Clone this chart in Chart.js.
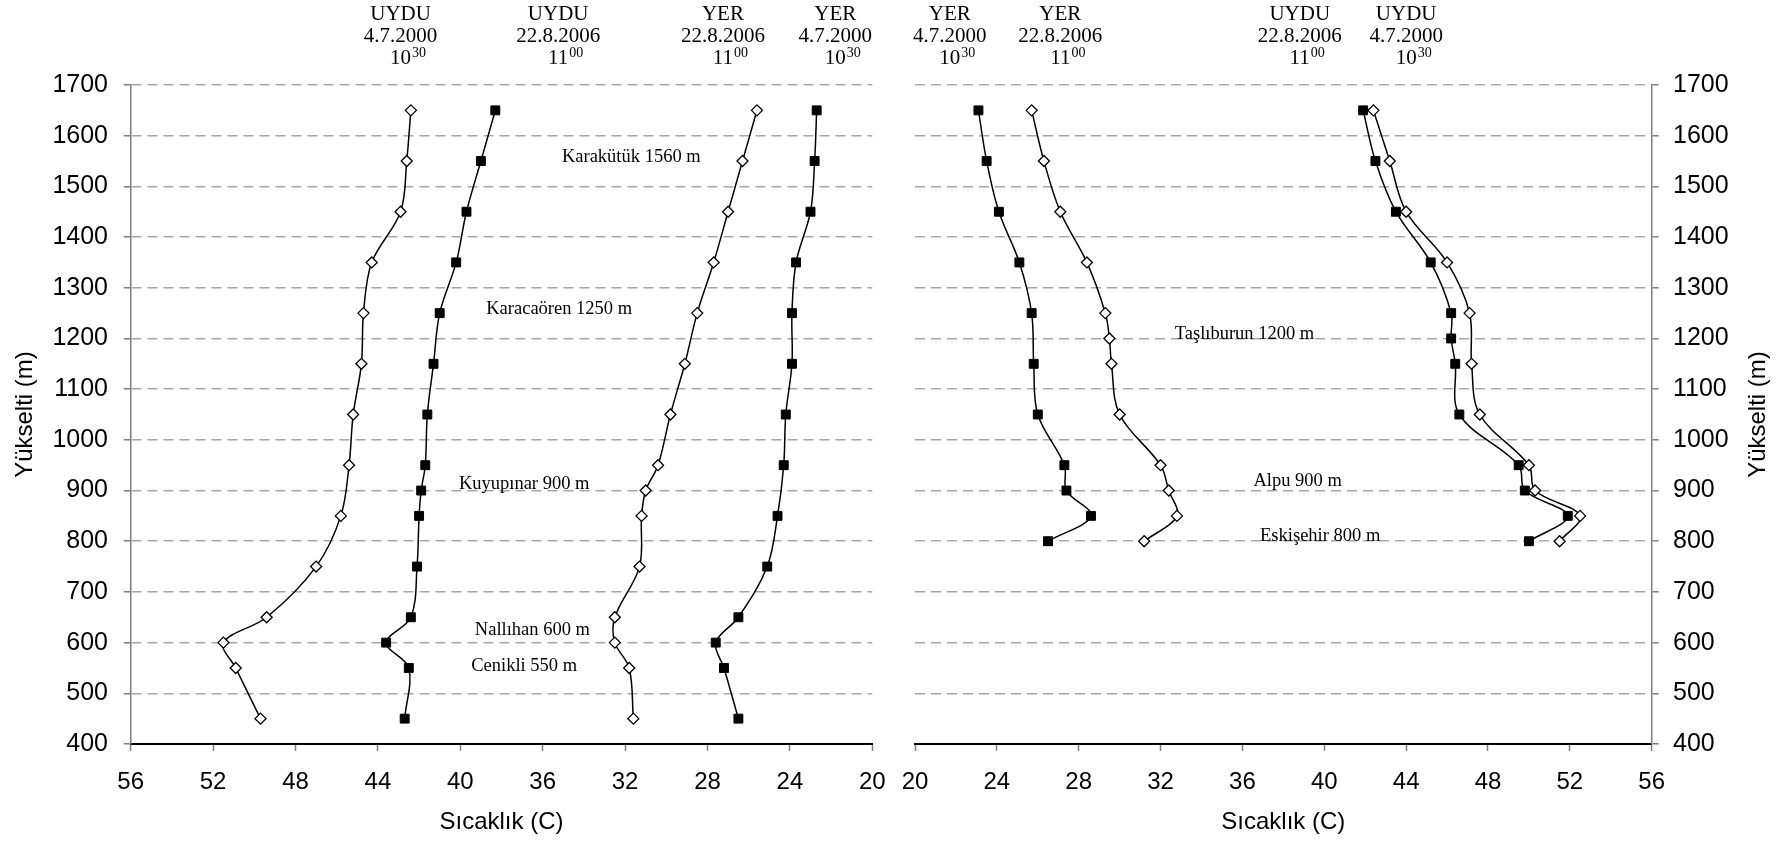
<!DOCTYPE html>
<html><head><meta charset="utf-8">
<script src="https://cdn.jsdelivr.net/npm/chart.js@4/dist/chart.umd.min.js"></script>
<style>
html,body{margin:0;padding:0;background:#fff;width:1782px;height:844px;overflow:hidden}
canvas{position:absolute;top:0}
#cL{left:0}
#cR{left:895px}
</style></head><body>
<canvas id="cL" width="895" height="844"></canvas>
<canvas id="cR" width="887" height="844"></canvas>
<script>
// ---------- DATA ----------
// altitudes (m)
const altLeftA  = [1650,1550,1450,1350,1250,1150,1050,950,850,750,650,600,550,450];
const altLeftB  = [1650,1550,1450,1350,1250,1150,1050,950,900,850,750,650,600,550,450];
const altRightA = [1650,1550,1450,1350,1250,1150,1050,950,900,850,800];
const altRightB = [1650,1550,1450,1350,1250,1200,1150,1050,950,900,850,800];

// temperatures (C) - left panel
const uyduLeft2000 = [42.4,42.6,42.9,44.3,44.7,44.8,45.2,45.4,45.8,47.0,49.4,51.5,50.9,49.7];
const uyduLeft2006 = [38.3,39.0,39.7,40.2,41.0,41.3,41.6,41.7,41.9,42.0,42.1,42.4,43.6,42.5,42.7];
const yerLeft2006  = [25.6,26.3,27.0,27.7,28.5,29.1,29.8,30.4,31.0,31.2,31.3,32.5,32.5,31.8,31.6];
const yerLeft2000  = [22.7,22.8,23.0,23.7,23.9,23.9,24.2,24.3,24.6,25.1,26.5,27.6,27.2,26.5];

// temperatures (C) - right panel
const yerRight2000  = [23.1,23.5,24.1,25.1,25.7,25.8,26.0,27.3,27.4,28.6,26.5];
const yerRight2006  = [25.7,26.3,27.1,28.4,29.3,29.5,29.6,30.0,32.0,32.4,32.8,31.2];
const uyduRight2006 = [41.9,42.5,43.5,45.2,46.2,46.2,46.4,46.6,49.5,49.8,51.9,50.0];
const uyduRight2000 = [42.4,43.2,44.0,46.0,47.1,47.2,47.6,50.0,50.3,52.5,51.5];

// tick settings
const tempMin = 20, tempMax = 56, tempStep = 4;
const altMin = 400, altMax = 1700, altStep = 100;

// text
const xTitle = 'Sıcaklık (C)';
const yTitle = 'Yükselti (m)';
const leftHeaders = [
  {src:'UYDU', date:'4.7.2000',  hour:'10', sup:'30'},
  {src:'UYDU', date:'22.8.2006', hour:'11', sup:'00'},
  {src:'YER',  date:'22.8.2006', hour:'11', sup:'00'},
  {src:'YER',  date:'4.7.2000',  hour:'10', sup:'30'}
];
const rightHeaders = [
  {src:'YER',  date:'4.7.2000',  hour:'10', sup:'30'},
  {src:'YER',  date:'22.8.2006', hour:'11', sup:'00'},
  {src:'UYDU', date:'22.8.2006', hour:'11', sup:'00'},
  {src:'UYDU', date:'4.7.2000',  hour:'10', sup:'30'}
];
const leftStations  = ['Karakütük 1560 m','Karacaören 1250 m','Kuyupınar 900 m','Nallıhan 600 m','Cenikli 550 m'];
const rightStations = ['Taşlıburun 1200 m','Alpu 900 m','Eskişehir 800 m'];

// ---------- LAYOUT (positions in axis units) ----------
const leftHeaderX  = [42.9, 35.25, 27.25, 21.8];
const rightHeaderX = [21.7, 27.1, 38.8, 44.0];
const leftStationPos  = [[31.7,1558],[35.2,1258],[36.9,913],[36.5,625],[36.9,554]];
const rightStationPos = [[36.1,1209],[38.7,919],[39.8,810]];

const SANS = '"Liberation Sans", Arial, sans-serif';
const SERIF = '"Liberation Serif", "Times New Roman", serif';

const pts = (xs, ys) => xs.map((v,i) => ({x:v, y:ys[i]}));

function diamondSet(label, xs, ys){
  return {label, data: pts(xs, ys), showLine:true, tension:0.35,
    borderColor:'#000', borderWidth:1.5, backgroundColor:'#fff',
    pointStyle:'rectRot', pointRadius:5.5, pointBorderWidth:1.3, pointBorderColor:'#000', pointBackgroundColor:'#fff'};
}
function squareSet(label, xs, ys){
  return {label, data: pts(xs, ys), showLine:true, tension:0.35,
    borderColor:'#000', borderWidth:1.5, backgroundColor:'#000',
    pointStyle:'rect', pointRadius:6.3, pointBorderWidth:1, pointBorderColor:'#000', pointBackgroundColor:'#000'};
}

const textPlugin = {
  id:'texts',
  afterDraw(chart, args, o){
    const ctx = chart.ctx, xs = chart.scales.x, ys = chart.scales.y;
    ctx.save();
    ctx.fillStyle = '#000';
    (o.headers||[]).forEach((h,i) => {
      const cx = xs.getPixelForValue(o.headerX[i]);
      ctx.textAlign = 'center'; ctx.textBaseline = 'alphabetic';
      ctx.font = '21px ' + SERIF;
      ctx.fillText(h.src, cx, 20);
      ctx.fillText(h.date, cx, 42);
      const mw = ctx.measureText(h.hour).width;
      ctx.fillText(h.hour, cx, 63.5);
      ctx.textAlign = 'left';
      ctx.font = '14px ' + SERIF;
      ctx.fillText(h.sup, cx + mw/2 + 1, 57);
    });
    ctx.font = '18.5px ' + SERIF;
    ctx.textAlign = 'center'; ctx.textBaseline = 'middle';
    (o.stations||[]).forEach((s,i) => {
      const p = o.stationPos[i];
      ctx.fillText(s, xs.getPixelForValue(p[0]), ys.getPixelForValue(p[1]));
    });
    if (o.rightTitle){
      ctx.translate(ys.right - 24, (chart.chartArea.top + chart.chartArea.bottom)/2);
      ctx.rotate(-Math.PI/2);
      ctx.font = '24px ' + SANS;
      ctx.textAlign = 'center'; ctx.textBaseline = 'middle';
      ctx.fillText(o.rightTitle, 0, 0);
    }
    ctx.restore();
  }
};

function makeOptions(side){
  const left = side === 'left';
  return {
    responsive:false, animation:false, devicePixelRatio:1,
    layout:{padding: left ? {left:0, top:85, right:22.7, bottom:0} : {left:20, top:85, right:0, bottom:0}},
    plugins:{
      legend:{display:false}, tooltip:{enabled:false},
      texts: left
        ? {headers:leftHeaders, headerX:leftHeaderX, stations:leftStations, stationPos:leftStationPos}
        : {headers:rightHeaders, headerX:rightHeaderX, stations:rightStations, stationPos:rightStationPos, rightTitle:yTitle}
    },
    scales:{
      x:{type:'linear', position:'bottom', reverse:left, min:tempMin, max:tempMax,
        ticks:{stepSize:tempStep, padding:17, color:'#000', font:{family:SANS, size:24}, maxRotation:0, autoSkip:false,
               callback:(v)=>String(v)},
        grid:{drawOnChartArea:false, drawTicks:true, tickLength:7, tickColor:'#808080', tickWidth:1.5},
        border:{display:true, color:'#000', width:2},
        title:{display:true, text:xTitle, color:'#000', font:{family:SANS, size:24}, padding:{top:0, bottom:7}},
        afterFit:(s)=>{ s.height = 100; s.paddingLeft = 0; s.paddingRight = 0; }
      },
      y:{type:'linear', position: left ? 'left' : 'right', min:altMin, max:altMax,
        ticks:{stepSize:altStep, padding: left ? 15.7 : 14.3, color:'#000', font:{family:SANS, size:25},
               callback:(v)=>String(v)},
        grid:{color:(c)=> (c.tick && c.tick.value === altMin) ? 'rgba(0,0,0,0)' : '#a8a8a8', lineWidth:1.5,
              drawTicks:true, tickLength:7, tickColor:'#808080', tickWidth:1.5, tickBorderDash:[]},
        border:{display:true, color:'#808080', width:1.5, dash:[10,6]},
        title:{display:left, text:yTitle, color:'#000', font:{family:SANS, size:24}, padding:{top:11, bottom:0}},
        afterFit:(s)=>{ s.width = left ? 130.7 : 130.3; }
      }
    }
  };
}

new Chart(document.getElementById('cL'), {
  type:'scatter',
  data:{datasets:[
    diamondSet('UYDU 4.7.2000', uyduLeft2000, altLeftA),
    squareSet('UYDU 22.8.2006', uyduLeft2006, altLeftB),
    diamondSet('YER 22.8.2006', yerLeft2006, altLeftB),
    squareSet('YER 4.7.2000', yerLeft2000, altLeftA)
  ]},
  options: makeOptions('left'),
  plugins:[textPlugin]
});

new Chart(document.getElementById('cR'), {
  type:'scatter',
  data:{datasets:[
    squareSet('YER 4.7.2000', yerRight2000, altRightA),
    diamondSet('YER 22.8.2006', yerRight2006, altRightB),
    squareSet('UYDU 22.8.2006', uyduRight2006, altRightB),
    diamondSet('UYDU 4.7.2000', uyduRight2000, altRightA)
  ]},
  options: makeOptions('right'),
  plugins:[textPlugin]
});
</script>
</body></html>
